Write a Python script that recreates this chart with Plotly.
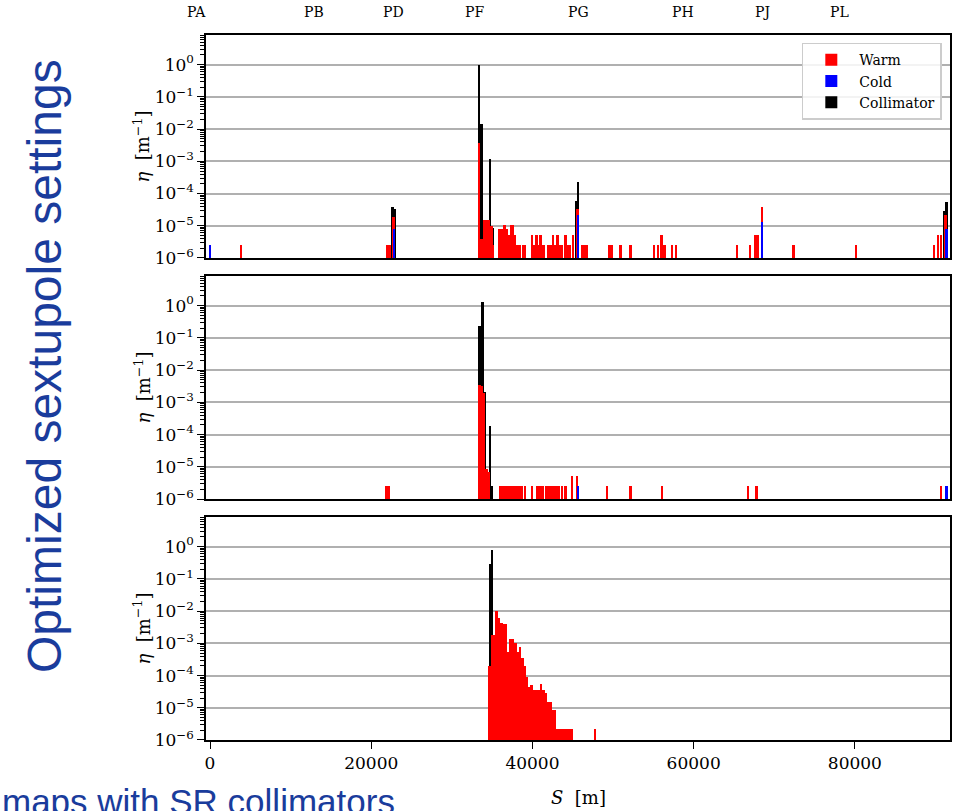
import plotly.graph_objects as go

# ---------------- data ----------------
S_RANGE = [-500, 91800]
Y_LOG_RANGE = [-6, 0.92]
BAR_W = 300

section_names = ["PA", "PB", "PD", "PF", "PG", "PH", "PJ", "PL"]
section_s = [-1740, 12900, 22700, 32750, 45650, 58680, 68600, 78150]

# Panel 1
p1_warm_s = [3850, 21950, 22250, 22750, 33350, 33700, 34000, 34300, 34600, 34900, 35050,
             35900, 36200, 36550, 36800, 37050, 37350, 37600, 37850, 38150, 38450, 38800, 39100,
             39950, 40250, 40500, 40750, 41000, 41350, 41950, 42250, 42550, 42800, 43100, 43400,
             43700, 44100, 44400, 44650, 45000, 45600, 46150, 46450, 46800, 49500, 49800, 50900,
             52150, 55050, 55550, 56000, 56400, 57300, 57800, 65400, 66970, 67650, 67950, 68450,
             72370, 80150, 89800, 90320, 90680, 91250]
p1_warm_v = [2.6e-6, 2.6e-6, 2.6e-6, 1.9e-5, 3.6e-3, 4e-6, 1.5e-5, 1.5e-5, 1.5e-5, 1.0e-5, 2.6e-6,
             7.9e-6, 7.9e-6, 1.05e-5, 7.9e-6, 5.2e-6, 1.05e-5, 1.05e-5, 5.2e-6, 2.6e-6, 2.6e-6, 2.6e-6, 2.6e-6,
             5.2e-6, 2.6e-6, 5.2e-6, 2.6e-6, 5.2e-6, 2.6e-6, 2.6e-6, 2.6e-6, 5.2e-6, 2.6e-6, 5.2e-6, 2.6e-6,
             2.6e-6, 5.2e-6, 2.6e-6, 2.6e-6, 5.1e-6, 3.3e-5, 2.6e-6, 2.6e-6, 2.6e-6, 2.6e-6, 2.6e-6, 2.6e-6,
             2.6e-6, 2.6e-6, 2.6e-6, 5.1e-6, 2.6e-6, 2.6e-6, 2.6e-6, 2.6e-6, 2.6e-6, 5.1e-6, 5.1e-6, 3.7e-5,
             2.6e-6, 2.6e-6, 2.6e-6, 5.1e-6, 5.1e-6, 2.2e-5]
p1_cold_s = [0, 22800, 45650, 68480, 91350]
p1_cold_v = [2.6e-6, 7.7e-6, 2.1e-5, 1.35e-5, 7.7e-6]
p1_coll_s = [22650, 22900, 33350, 33700, 34720, 35030, 45450, 45680, 91130, 91380]
p1_coll_v = [3.9e-5, 3.3e-5, 0.95, 1.4e-2, 1.2e-3, 8.3e-6, 6e-5, 2.3e-4, 2.8e-5, 5.6e-5]

# Panel 2
p2_warm_s = [21900, 22150, 33450, 33750, 34000, 34300, 34600,
             36000, 36300, 36600, 36900, 37200, 37500, 37800, 38100, 38400, 38700, 39050,
             39950, 40600, 40900, 41250, 41750, 42050, 42350, 42650, 42950, 43250, 43650, 44100,
             44900, 45550, 49250, 52150, 56070, 66770, 67800, 90670]
p2_warm_v = [2.6e-6, 2.6e-6, 3.5e-3, 3.3e-3, 1.9e-3, 8.5e-6, 7e-6,
             2.6e-6, 2.6e-6, 2.6e-6, 2.6e-6, 2.6e-6, 2.6e-6, 2.6e-6, 2.6e-6, 2.6e-6, 2.6e-6, 2.6e-6,
             2.6e-6, 2.6e-6, 2.6e-6, 2.6e-6, 2.6e-6, 2.6e-6, 2.6e-6, 2.6e-6, 2.6e-6, 2.6e-6, 2.6e-6, 2.6e-6,
             5.1e-6, 5.1e-6, 2.6e-6, 2.6e-6, 2.6e-6, 2.6e-6, 2.6e-6, 2.6e-6]
p2_cold_s = [45650, 91340]
p2_cold_v = [2.6e-6, 2.6e-6]
p2_coll_s = [33450, 33800, 34050, 34720, 35010]
p2_coll_v = [0.24, 1.3, 2.1e-3, 1.8e-4, 2.5e-6]

# Panel 3
p3_warm_s = [34685, 34975, 35265, 35555, 35845, 36135, 36425, 36715, 37005, 37295, 37585,
             37875, 38165, 38455, 38745, 39035, 39325, 39615, 39905, 40195, 40485, 40775,
             41065, 41355, 41645, 41935, 42225, 42515, 42805, 43095, 43385, 43675, 43965,
             44255, 44545, 44835, 47735]
p3_warm_v = [2e-4, 1.8e-3, 1.8e-3, 1.0e-2, 5.9e-3, 4.4e-3, 4.1e-3, 4.1e-3, 5.5e-4, 1.4e-3, 1.4e-3,
             1.0e-3, 5.5e-4, 7.8e-4, 3.4e-4, 1.95e-4, 9.1e-5, 4.5e-5, 5.0e-5, 3.5e-5, 3.5e-5, 3.5e-5,
             5.4e-5, 3.5e-5, 2.8e-5, 1.5e-5, 1.5e-5, 8.5e-6, 8.5e-6, 2.2e-6, 2.2e-6, 2.2e-6, 2.2e-6,
             2.2e-6, 2.2e-6, 2.2e-6, 2.2e-6]
p3_cold_s = []
p3_cold_v = []
p3_coll_s = [34750, 35010]
p3_coll_v = [0.3, 0.8]

y_tickvals = [1e-6, 1e-5, 1e-4, 1e-3, 1e-2, 1e-1, 1]
y_ticktext = ["10<sup>\u22126</sup>", "10<sup>\u22125</sup>", "10<sup>\u22124</sup>",
              "10<sup>\u22123</sup>", "10<sup>\u22122</sup>", "10<sup>\u22121</sup>", "10<sup>0</sup>"]
x_tickvals = [0, 20000, 40000, 60000, 80000]
x_ticktext = ["0", "20000", "40000", "60000", "80000"]

WARM, COLD, COLL = "#ff0000", "#0000ff", "#000000"
SERIF = "DejaVu Serif"

# ---------------- figure ----------------
fig = go.Figure()
panels = [
    (p1_warm_s, p1_warm_v, p1_cold_s, p1_cold_v, p1_coll_s, p1_coll_v),
    (p2_warm_s, p2_warm_v, p2_cold_s, p2_cold_v, p2_coll_s, p2_coll_v),
    (p3_warm_s, p3_warm_v, p3_cold_s, p3_cold_v, p3_coll_s, p3_coll_v),
]
for i, (ws, wv, cs, cv, ks, kv) in enumerate(panels):
    xa = "x" if i == 0 else f"x{i+1}"
    ya = "y" if i == 0 else f"y{i+1}"
    first = i == 0
    fig.add_trace(go.Bar(x=ks, y=kv, width=[BAR_W] * len(ks), marker=dict(color=COLL, line=dict(width=0)),
                         name="Collimator", legendrank=3, showlegend=first, opacity=1,
                         xaxis=xa, yaxis=ya))
    fig.add_trace(go.Bar(x=ws, y=wv, width=[BAR_W] * len(ws), marker=dict(color=WARM, line=dict(width=0)),
                         name="Warm", legendrank=1, showlegend=first, opacity=1,
                         xaxis=xa, yaxis=ya))
    fig.add_trace(go.Bar(x=cs, y=cv, width=[BAR_W] * len(cs), marker=dict(color=COLD, line=dict(width=0)),
                         name="Cold", legendrank=2, showlegend=first, opacity=1,
                         xaxis=xa, yaxis=ya))

minor_vals = [m * 10.0 ** e for e in range(-6, 1) for m in range(2, 10)]
domains = [[0.6837, 1.0], [0.3418, 0.6582], [0.0, 0.3163]]

layout = dict(
    width=953, height=811,
    margin=dict(l=206, r=3, t=35, b=71, autoexpand=False),
    paper_bgcolor="white", plot_bgcolor="white",
    barmode="overlay", bargap=0,
    font=dict(family=SERIF, size=17, color="black"),
    showlegend=True,
    legend=dict(x=0.989, y=0.989, xanchor="right", yanchor="top",
                bgcolor="rgba(255,255,255,0.85)", bordercolor="#cccccc", borderwidth=1.5,
                font=dict(family=SERIF, size=14), traceorder="normal",
                itemsizing="constant", itemwidth=46, tracegroupgap=0),
)
for i in range(3):
    sfx = "" if i == 0 else str(i + 1)
    bottom = i == 2
    layout["xaxis" + sfx] = dict(
        domain=[0, 1], anchor="y" + sfx, range=S_RANGE, showgrid=False, zeroline=False,
        showline=True, linecolor="black", linewidth=1.5, mirror=True,
        tickmode="array", tickvals=x_tickvals, ticktext=x_ticktext,
        ticks="outside" if bottom else "", ticklen=7, tickwidth=1.3, tickcolor="black",
        showticklabels=bottom, tickfont=dict(family=SERIF, size=17),
        matches=None if i == 0 else "x", automargin=False,
    )
    layout["yaxis" + sfx] = dict(
        domain=domains[i], anchor="x" + sfx, type="log", range=Y_LOG_RANGE,
        tickmode="array", tickvals=y_tickvals, ticktext=y_ticktext,
        ticks="outside", ticklen=7, tickwidth=1.3, tickcolor="black",
        tickfont=dict(family=SERIF, size=17), automargin=False,
        showline=True, linecolor="black", linewidth=1.5, mirror=True,
        showgrid=True, gridcolor="#b0b0b0", gridwidth=1.5, zeroline=False,
        minor=dict(tickmode="array", tickvals=minor_vals, ticks="outside", ticklen=4,
                   tickwidth=1, tickcolor="black", showgrid=False),
    )
fig.update_layout(**layout)

annotations = []
span = S_RANGE[1] - S_RANGE[0]
for name, s in zip(section_names, section_s):
    annotations.append(dict(text=name, x=(s - S_RANGE[0]) / span, y=1.0326, xref="paper", yref="paper",
                            xanchor="center", yanchor="middle", showarrow=False,
                            font=dict(family=SERIF, size=14, color="black")))
for dom in domains:
    annotations.append(dict(text="<i>\u03b7</i>  [m<sup>\u22121</sup>]", x=-0.086, y=(dom[0] + dom[1]) / 2,
                            xref="paper", yref="paper", textangle=-90, showarrow=False,
                            xanchor="center", yanchor="middle",
                            font=dict(family=SERIF, size=18, color="black")))
annotations.append(dict(text="<i>S</i>  [m]", x=0.5, y=-0.0809, xref="paper", yref="paper",
                        showarrow=False, xanchor="center", yanchor="middle",
                        font=dict(family=SERIF, size=18, color="black")))
annotations.append(dict(text="Optimized sextupole settings", x=-0.2164, y=0.5305, xref="paper", yref="paper",
                        textangle=-90, showarrow=False, xanchor="center", yanchor="middle",
                        font=dict(family="Liberation Sans", size=48, color="#1a3c9c")))
annotations.append(dict(text="maps with SR collimators", x=(0 - 206) / 744, y=-0.0567, xref="paper", yref="paper",
                        showarrow=False, xanchor="left", yanchor="top",
                        font=dict(family="Liberation Sans", size=35, color="#1a3c9c")))
fig.update_layout(annotations=annotations)

fig.write_html("out.html", config={"displayModeBar": False},
               post_script="document.body.style.margin='0px';")
